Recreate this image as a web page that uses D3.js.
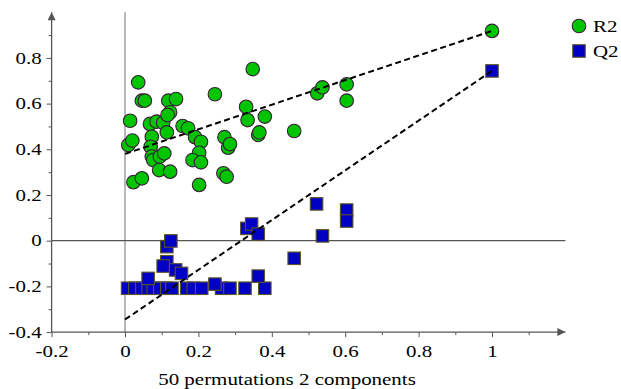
<!DOCTYPE html>
<html>
<head>
<meta charset="utf-8">
<script src="https://cdn.jsdelivr.net/npm/d3@7"></script>
<style>
  body { margin: 0; background: #fff; }
</style>
</head>
<body>
<div id="chart"></div>
<script>
// permutation results (x = correlation, y = R2 / Q2)
var r2X = [0.036, 0.046, 0.054, 0.014, 0.009, 0.020, 0.023, 0.046, 0.068, 0.086,
           0.073, 0.070, 0.073, 0.077, 0.093, 0.095, 0.107, 0.104, 0.114, 0.118,
           0.123, 0.116, 0.139, 0.123, 0.157, 0.172, 0.191, 0.207, 0.202, 0.184,
           0.207, 0.202, 0.245, 0.271, 0.281, 0.286, 0.268, 0.277, 0.330, 0.334,
           0.348, 0.363, 0.366, 0.381, 0.461, 0.524, 0.538, 0.604, 0.604, 1.0];
var r2Y = [0.693, 0.613, 0.613, 0.525, 0.419, 0.438, 0.256, 0.273, 0.511, 0.521,
           0.455, 0.411, 0.368, 0.353, 0.309, 0.368, 0.382, 0.516, 0.474, 0.613,
           0.562, 0.550, 0.620, 0.302, 0.502, 0.492, 0.453, 0.433, 0.385, 0.353,
           0.343, 0.244, 0.641, 0.453, 0.407, 0.423, 0.295, 0.280, 0.586, 0.528,
           0.751, 0.463, 0.474, 0.543, 0.480, 0.645, 0.671, 0.684, 0.613, 0.918];

var q2X = [0.007, 0.027, 0.046, 0.063, 0.077, 0.095, 0.114, 0.128, 0.168, 0.186,
           0.209, 0.263, 0.286, 0.327, 0.381, 0.245, 0.063, 0.363, 0.114, 0.125,
           0.114, 0.104, 0.138, 0.154, 0.332, 0.345, 0.363, 0.461, 0.522, 0.604,
           0.604, 0.538, 1.0];
var q2Y = [-0.208, -0.208, -0.208, -0.208, -0.208, -0.208, -0.208, -0.208, -0.208, -0.208,
           -0.208, -0.208, -0.208, -0.208, -0.208, -0.190, -0.165, -0.155, -0.026, -0.001,
           -0.092, -0.111, -0.128, -0.143, 0.054, 0.073, 0.029, -0.077, 0.161, 0.134,
           0.086, 0.021, 0.743];

// regression line intercepts at x = 0
var r2Intercept = 0.38,
    q2Intercept = -0.345;

var xMajorTicks = [-0.2, 0, 0.2, 0.4, 0.6, 0.8, 1];
var xMinorTicks = [-0.1, 0.1, 0.3, 0.5, 0.7, 0.9, 1.1];
var yMajorTicks = [-0.4, -0.2, 0, 0.2, 0.4, 0.6, 0.8];
var yMinorTicks = [-0.3, -0.1, 0.1, 0.3, 0.5, 0.7, 0.9];
var xTitle = "50 permutations 2 components";
var legendNames = ["R2", "Q2"];

var width = 621,
    height = 389,
    font = "'Liberation Serif', serif",
    stretch = 1.27; // the picture's text is a bit wider than normal

var x = d3.scaleLinear().domain([-0.2, 1.2]).range([51.6, 565.4]);
var y = d3.scaleLinear().domain([-0.4, 1.0]).range([332.1, 12.2]);

var svg = d3.select("#chart").append("svg")
    .attr("width", width)
    .attr("height", height);

var defs = svg.append("defs");
defs.append("marker")
    .attr("id", "arrow")
    .attr("viewBox", "0 0 10 10")
    .attr("refX", 10).attr("refY", 5)
    .attr("markerWidth", 14).attr("markerHeight", 8)
    .attr("markerUnits", "userSpaceOnUse")
    .attr("orient", "auto")
    .append("path")
    .attr("d", "M0,0L10,5L0,10Z")
    .attr("fill", "#555");

// zero lines
svg.append("line")
    .attr("x1", x(0)).attr("x2", x(0))
    .attr("y1", y(1.0)).attr("y2", y(-0.4))
    .attr("stroke", "#a0a0a0").attr("stroke-width", 1.5);
svg.append("line")
    .attr("x1", x(-0.2)).attr("x2", x(1.2))
    .attr("y1", y(0)).attr("y2", y(0))
    .attr("stroke", "#555").attr("stroke-width", 1.3);

var fmt = function (d) { return String(+d.toFixed(1)); };

// y axis
var yAxisG = svg.append("g").attr("transform", "translate(" + x(-0.2) + ",0)");
yAxisG.append("g")
    .call(d3.axisLeft(y).tickValues(yMinorTicks).tickSize(3).tickFormat(""))
    .call(g => g.select(".domain").remove());
yAxisG.append("g")
    .call(d3.axisLeft(y).tickValues(yMajorTicks).tickSize(5).tickFormat(fmt))
    .call(g => g.select(".domain").remove())
    .call(g => g.selectAll("text")
        .attr("x", -7.8)
        .attr("transform", "scale(" + stretch + ",1)")
        .style("font-family", font)
        .style("font-size", "16.5px"));
yAxisG.selectAll(".tick line").attr("stroke", "#555");
yAxisG.append("line")
    .attr("x1", 0).attr("x2", 0)
    .attr("y1", y(-0.4)).attr("y2", y(1.0))
    .attr("stroke", "#555").attr("stroke-width", 1.3)
    .attr("marker-end", "url(#arrow)");

// x axis
var xAxisG = svg.append("g").attr("transform", "translate(0," + y(-0.4) + ")");
xAxisG.append("g")
    .call(d3.axisBottom(x).tickValues(xMinorTicks).tickSize(3).tickFormat(""))
    .call(g => g.select(".domain").remove());
xAxisG.append("g")
    .call(d3.axisBottom(x).tickValues(xMajorTicks).tickSize(5).tickFormat(fmt))
    .call(g => g.select(".domain").remove())
    .call(g => g.selectAll("text")
        .attr("y", 13)
        .attr("transform", "scale(" + stretch + ",1)")
        .style("font-family", font)
        .style("font-size", "16.5px"));
xAxisG.selectAll(".tick line").attr("stroke", "#555");
xAxisG.append("line")
    .attr("x1", x(-0.2)).attr("x2", x(1.2))
    .attr("y1", 0).attr("y2", 0)
    .attr("stroke", "#555").attr("stroke-width", 1.3)
    .attr("marker-end", "url(#arrow)");

// axis title
svg.append("g")
    .attr("transform", "translate(287,385) scale(" + stretch + ",1)")
    .append("text")
    .attr("text-anchor", "middle")
    .style("font-family", font)
    .style("font-size", "16.5px")
    .text(xTitle);

// R2 circles
svg.append("g").selectAll("circle")
    .data(r2X.map((d, i) => ({ x: d, y: r2Y[i] })))
    .enter()
    .append("circle")
    .attr("cx", d => x(d.x))
    .attr("cy", d => y(d.y))
    .attr("r", 6.8)
    .attr("fill", "#00c400")
    .attr("stroke", "#3a1f3a")
    .attr("stroke-width", 1.1);

// Q2 squares
var sq = 12.5;
svg.append("g").selectAll("rect")
    .data(q2X.map((d, i) => ({ x: d, y: q2Y[i] })))
    .enter()
    .append("rect")
    .attr("x", d => x(d.x) - sq / 2)
    .attr("y", d => y(d.y) - sq / 2)
    .attr("width", sq)
    .attr("height", sq)
    .attr("fill", "#0000c4")
    .attr("stroke", "#5e5426")
    .attr("stroke-width", 1.1);

// dashed regression lines, from the intercept to the real model
var lastR2 = r2X.length - 1,
    lastQ2 = q2X.length - 1;
svg.append("line")
    .attr("x1", x(0)).attr("y1", y(r2Intercept))
    .attr("x2", x(r2X[lastR2])).attr("y2", y(r2Y[lastR2]))
    .attr("stroke", "#000").attr("stroke-width", 2)
    .attr("stroke-dasharray", "6,3.5");
svg.append("line")
    .attr("x1", x(0)).attr("y1", y(q2Intercept))
    .attr("x2", x(q2X[lastQ2])).attr("y2", y(q2Y[lastQ2]))
    .attr("stroke", "#000").attr("stroke-width", 2)
    .attr("stroke-dasharray", "6,3.5");

// legend
var legend = svg.append("g").attr("transform", "translate(579,26)");
legend.append("circle")
    .attr("cx", 0).attr("cy", 0).attr("r", 6.8)
    .attr("fill", "#00c400").attr("stroke", "#3a1f3a").attr("stroke-width", 1.1);
legend.append("rect")
    .attr("x", -sq / 2).attr("y", 25 - sq / 2)
    .attr("width", sq).attr("height", sq)
    .attr("fill", "#0000c4").attr("stroke", "#5e5426").attr("stroke-width", 1.1);
legend.selectAll("g.label")
    .data(legendNames)
    .enter()
    .append("g")
    .attr("class", "label")
    .attr("transform", (d, i) => "translate(14," + (5.5 + i * 25) + ") scale(" + stretch + ",1)")
    .append("text")
    .style("font-family", font)
    .style("font-size", "16.5px")
    .text(d => d);
</script>
</body>
</html>
